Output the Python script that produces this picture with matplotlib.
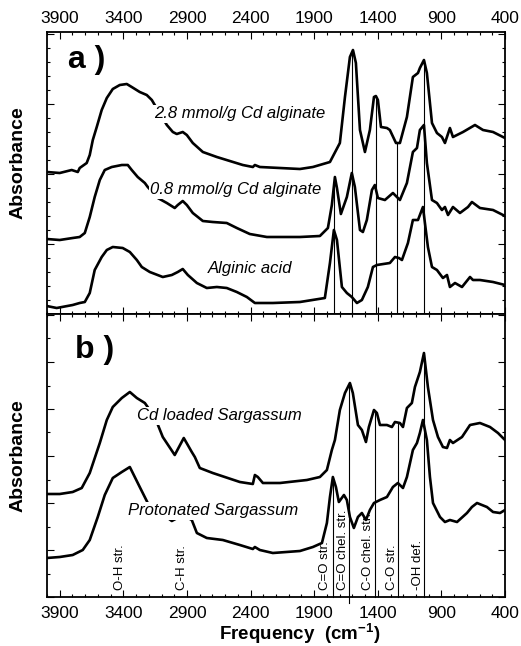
import numpy as np
import matplotlib
matplotlib.use('Agg')
import matplotlib.pyplot as plt
from matplotlib.ticker import MultipleLocator

plt.rcParams['font.family'] = ['Liberation Sans', 'DejaVu Sans']
plt.rcParams['mathtext.fontset'] = 'custom'
plt.rcParams['mathtext.rm'] = 'Liberation Sans:bold'
plt.rcParams['mathtext.bf'] = 'Liberation Sans:bold'

# ---- panel a: alginates (wavenumber, offset absorbance) ----
wn_cd28 = [4002, 3900, 3806, 3758, 3743, 3688, 3664, 3640, 3609, 3570, 3530, 3483, 3428, 3373,
           3334, 3271, 3216, 3176, 3153, 3058, 3011, 2980, 2933, 2901, 2854, 2775, 2665, 2563,
           2461, 2382, 2366, 2327, 2169, 2012, 1910, 1776, 1698, 1658, 1619,
           1595, 1572, 1540, 1501, 1462, 1430, 1415, 1399, 1375, 1328, 1305, 1257, 1226, 1171,
           1124, 1084, 1069, 1037, 1014, 974, 935, 896, 872, 833, 809, 730, 636, 573, 494, 416, 400]
ab_cd28 = [1.42, 1.41, 1.44, 1.42, 1.46, 1.51, 1.59, 1.74, 1.87, 2.04, 2.16, 2.25, 2.29, 2.30,
           2.27, 2.22, 2.19, 2.14, 2.09, 1.89, 1.82, 1.80, 1.82, 1.79, 1.71, 1.62, 1.57, 1.53,
           1.49, 1.47, 1.49, 1.47, 1.46, 1.45, 1.47, 1.52, 1.71, 2.17, 2.57,
           2.64, 2.51, 1.84, 1.62, 1.84, 2.17, 2.18, 2.14, 1.87, 1.86, 1.84, 1.71, 1.71, 1.97,
           2.37, 2.41, 2.46, 2.54, 2.41, 1.91, 1.81, 1.77, 1.71, 1.86, 1.77, 1.82, 1.89, 1.84, 1.82, 1.77, 1.76]

wn_cd08 = [4002, 3900, 3798, 3743, 3703, 3664, 3625, 3585, 3546, 3491, 3412, 3365, 3334, 3287,
           3231, 3208, 3129, 3058, 2996, 2972, 2933, 2901, 2854, 2775, 2697, 2587, 2508, 2406,
           2272, 2169, 2012, 1855, 1792, 1761, 1737, 1721, 1690,
           1643, 1604, 1580, 1540, 1517, 1486, 1446, 1423, 1399, 1344, 1281, 1226, 1171, 1124,
           1092, 1069, 1037, 1014, 974, 935, 896, 872, 848, 809, 754, 691, 660, 597, 494, 400]
ab_cd08 = [0.75, 0.74, 0.76, 0.77, 0.81, 0.97, 1.17, 1.34, 1.44, 1.47, 1.49, 1.49, 1.44, 1.37,
           1.31, 1.27, 1.16, 1.11, 1.06, 1.09, 1.13, 1.09, 1.01, 0.93, 0.92, 0.91, 0.86, 0.80,
           0.77, 0.77, 0.77, 0.78, 0.86, 1.09, 1.37, 1.26, 1.00,
           1.17, 1.41, 1.27, 0.84, 0.82, 0.94, 1.24, 1.29, 1.16, 1.14, 1.21, 1.14, 1.31, 1.62,
           1.66, 1.84, 1.89, 1.51, 1.14, 1.11, 1.04, 1.07, 0.99, 1.07, 1.01, 1.07, 1.12, 1.06, 1.04, 0.98]

wn_alg = [4002, 3924, 3798, 3743, 3703, 3664, 3625, 3570, 3530, 3483, 3405, 3349, 3294, 3255,
          3192, 3090, 3019, 2972, 2933, 2893, 2822, 2744, 2665, 2587, 2508, 2429, 2366, 2225,
          2012, 1816, 1776, 1745, 1721, 1682, 1643,
          1604, 1564, 1525, 1478, 1438, 1407, 1305, 1265, 1234, 1210, 1163, 1124, 1084, 1045,
          1006, 974, 935, 888, 856, 833, 793, 738, 675, 652, 597, 494, 400]
ab_alg = [0.08, 0.06, 0.09, 0.11, 0.12, 0.21, 0.44, 0.57, 0.64, 0.67, 0.66, 0.62, 0.54, 0.47,
          0.42, 0.37, 0.39, 0.42, 0.45, 0.39, 0.31, 0.26, 0.27, 0.26, 0.22, 0.17, 0.11, 0.11,
          0.12, 0.16, 0.51, 0.84, 0.74, 0.27, 0.21,
          0.17, 0.11, 0.14, 0.27, 0.47, 0.49, 0.51, 0.57, 0.56, 0.54, 0.71, 0.94, 0.94, 1.07,
          0.67, 0.47, 0.44, 0.36, 0.39, 0.27, 0.31, 0.27, 0.37, 0.34, 0.34, 0.32, 0.29]

# ---- panel b: Sargassum ----
wn_sarg_cd = [4002, 3900, 3798, 3727, 3664, 3585, 3530, 3483, 3412, 3349, 3294, 3231, 3153, 3090,
              2996, 2925, 2862, 2838, 2799, 2697, 2484, 2382, 2366, 2343, 2303, 2169, 1957, 1855,
              1800, 1761, 1737, 1698, 1658, 1619, 1596, 1556, 1525, 1493, 1470, 1430, 1407, 1383,
              1328, 1289, 1265, 1226, 1202, 1171, 1132, 1108, 1069, 1037, 1006, 966, 927, 888,
              856, 833, 809, 738, 675, 597, 518, 455, 416, 400]
ab_sarg_cd = [1.03, 1.03, 1.05, 1.09, 1.24, 1.54, 1.77, 1.90, 1.99, 2.05, 1.99, 1.94, 1.80, 1.60,
              1.42, 1.59, 1.45, 1.40, 1.29, 1.24, 1.15, 1.13, 1.22, 1.20, 1.14, 1.14, 1.17, 1.20,
              1.27, 1.47, 1.57, 1.87, 2.04, 2.14, 2.04, 1.72, 1.67, 1.55, 1.70, 1.87, 1.84, 1.72,
              1.72, 1.70, 1.75, 1.74, 1.70, 1.89, 1.94, 2.10, 2.25, 2.44, 2.10, 1.77, 1.60, 1.50,
              1.49, 1.57, 1.54, 1.60, 1.72, 1.74, 1.70, 1.64, 1.59, 1.57]

wn_sarg_h = [4002, 3900, 3798, 3719, 3664, 3601, 3546, 3483, 3412, 3349, 3271, 3208, 3113, 3019,
             2933, 2862, 2822, 2744, 2618, 2484, 2382, 2366, 2327, 2225, 2012, 1910, 1839, 1800,
             1776, 1753, 1729, 1706, 1666, 1643, 1619, 1588, 1556, 1525, 1493, 1462, 1430, 1383,
             1328, 1281, 1242, 1202, 1171, 1124, 1092, 1069, 1045, 1014, 990, 966, 911, 872,
             833, 777, 699, 660, 620, 542, 494, 439, 400]
ab_sarg_h = [0.39, 0.40, 0.42, 0.47, 0.57, 0.80, 1.02, 1.19, 1.25, 1.30, 1.10, 0.94, 0.85, 0.76,
             0.82, 0.77, 0.64, 0.59, 0.57, 0.52, 0.48, 0.50, 0.47, 0.44, 0.46, 0.50, 0.54, 0.74,
             1.00, 1.20, 1.10, 0.95, 1.02, 0.97, 0.80, 0.69, 0.80, 0.84, 0.77, 0.87, 0.94, 0.97,
             1.00, 1.10, 1.14, 1.09, 1.20, 1.47, 1.54, 1.64, 1.77, 1.57, 1.20, 0.94, 0.80, 0.75,
             0.77, 0.75, 0.84, 0.90, 0.94, 0.90, 0.85, 0.84, 0.87]

# band markers: position and which curve each line runs up to
lines_a = [1745, 1600, 1415, 1250, 1040]
lines_a_curve = ['cd08', 'cd28', 'cd28', 'cd28', 'cd28']
lines_b = [1750, 1625, 1420, 1240, 1040]
lines_b_curve = ['h', 'cd', 'cd', 'cd', 'cd']
lines_b_low = [0, -0.06, 0, 0, 0]
band_labels = ['O-H str.', 'C-H str.', 'C=O str.', 'C=O chel. str.', 'C-O chel. str.', 'C-O str.', '-OH def.']
band_label_pos = [3430, 2935, 1816, 1675, 1478, 1289, 1084]

xticks = [3900, 3400, 2900, 2400, 1900, 1400, 900, 400]

fig = plt.figure(figsize=(5.21, 6.46), dpi=100)
ax_a = fig.add_axes([47 / 521, 332 / 646, 458 / 521, 282 / 646])
ax_b = fig.add_axes([47 / 521, 49 / 646, 458 / 521, 283 / 646])

for ax in (ax_a, ax_b):
    ax.set_xlim(4000, 400)
    ax.set_xticks(xticks)
    ax.xaxis.set_minor_locator(MultipleLocator(100))
    ax.tick_params(which='both', direction='in', top=True, right=True, labelleft=False,
                   width=0.8, labelsize=12.5)
    ax.tick_params(which='major', length=5)
    ax.tick_params(which='minor', length=2.5)
    for s in ax.spines.values():
        s.set_linewidth(1.3)

ax_a.set_ylim(0, 2.82)
ax_a.yaxis.set_major_locator(MultipleLocator(0.7))
ax_a.yaxis.set_minor_locator(MultipleLocator(0.14))
ax_a.tick_params(axis='x', labelbottom=False, labeltop=True, pad=4.5)
ax_b.set_ylim(0, 2.83)
ax_b.yaxis.set_major_locator(MultipleLocator(0.47))
ax_b.yaxis.set_minor_locator(MultipleLocator(0.235))
ax_b.tick_params(axis='x', pad=6.5)

curves_a = {'cd28': (wn_cd28, ab_cd28), 'cd08': (wn_cd08, ab_cd08), 'alg': (wn_alg, ab_alg)}
for key, (w, a) in curves_a.items():
    ax_a.plot(w, a, color='black', lw=1.9, solid_joinstyle='round', zorder=3)
for pos, key in zip(lines_a, lines_a_curve):
    w, a = curves_a[key]
    top = np.interp(pos, w[::-1], a[::-1])
    ax_a.plot([pos, pos], [0, top], color='black', lw=0.8, zorder=2)

curves_b = {'cd': (wn_sarg_cd, ab_sarg_cd), 'h': (wn_sarg_h, ab_sarg_h)}
for key, (w, a) in curves_b.items():
    ax_b.plot(w, a, color='black', lw=1.9, solid_joinstyle='round', zorder=3)
for pos, key, low in zip(lines_b, lines_b_curve, lines_b_low):
    w, a = curves_b[key]
    top = np.interp(pos, w[::-1], a[::-1])
    ax_b.plot([pos, pos], [low, top], color='black', lw=0.8, zorder=2, clip_on=False)

lab_kw = dict(fontsize=12, style='italic', ha='center', va='center', zorder=5,
              bbox=dict(facecolor='white', edgecolor='none', pad=1.0))
ax_a.text(2484, 2.00, '2.8 mmol/g Cd alginate', **lab_kw)
ax_a.text(2516, 1.24, '0.8 mmol/g Cd alginate', **lab_kw)
ax_a.text(2406, 0.45, 'Alginic acid', **lab_kw)
ax_b.text(2642, 1.81, 'Cd loaded Sargassum', **lab_kw)
ax_b.text(2697, 0.86, 'Protonated Sargassum', **lab_kw)

for lab, pos in zip(band_labels, band_label_pos):
    ax_b.text(pos, 0.07, lab, rotation=90, ha='center', va='bottom', fontsize=9.5, zorder=4)

ax_a.text(0.046, 0.90, 'a )', transform=ax_a.transAxes, fontsize=23, fontweight='bold',
          ha='left', va='center')
ax_b.text(0.061, 0.873, 'b )', transform=ax_b.transAxes, fontsize=23, fontweight='bold',
          ha='left', va='center')

fig.text(18 / 521, 1 - 163 / 646, 'Absorbance', rotation=90, fontsize=14, fontweight='bold',
         ha='center', va='center')
fig.text(18 / 521, 1 - 456 / 646, 'Absorbance', rotation=90, fontsize=14, fontweight='bold',
         ha='center', va='center')
fig.text(300 / 521, 1 - 640 / 646, r'Frequency  (cm$^{-1}$)', fontsize=13.5, fontweight='bold',
         ha='center', va='baseline')

fig.savefig('out.png', dpi=100)
